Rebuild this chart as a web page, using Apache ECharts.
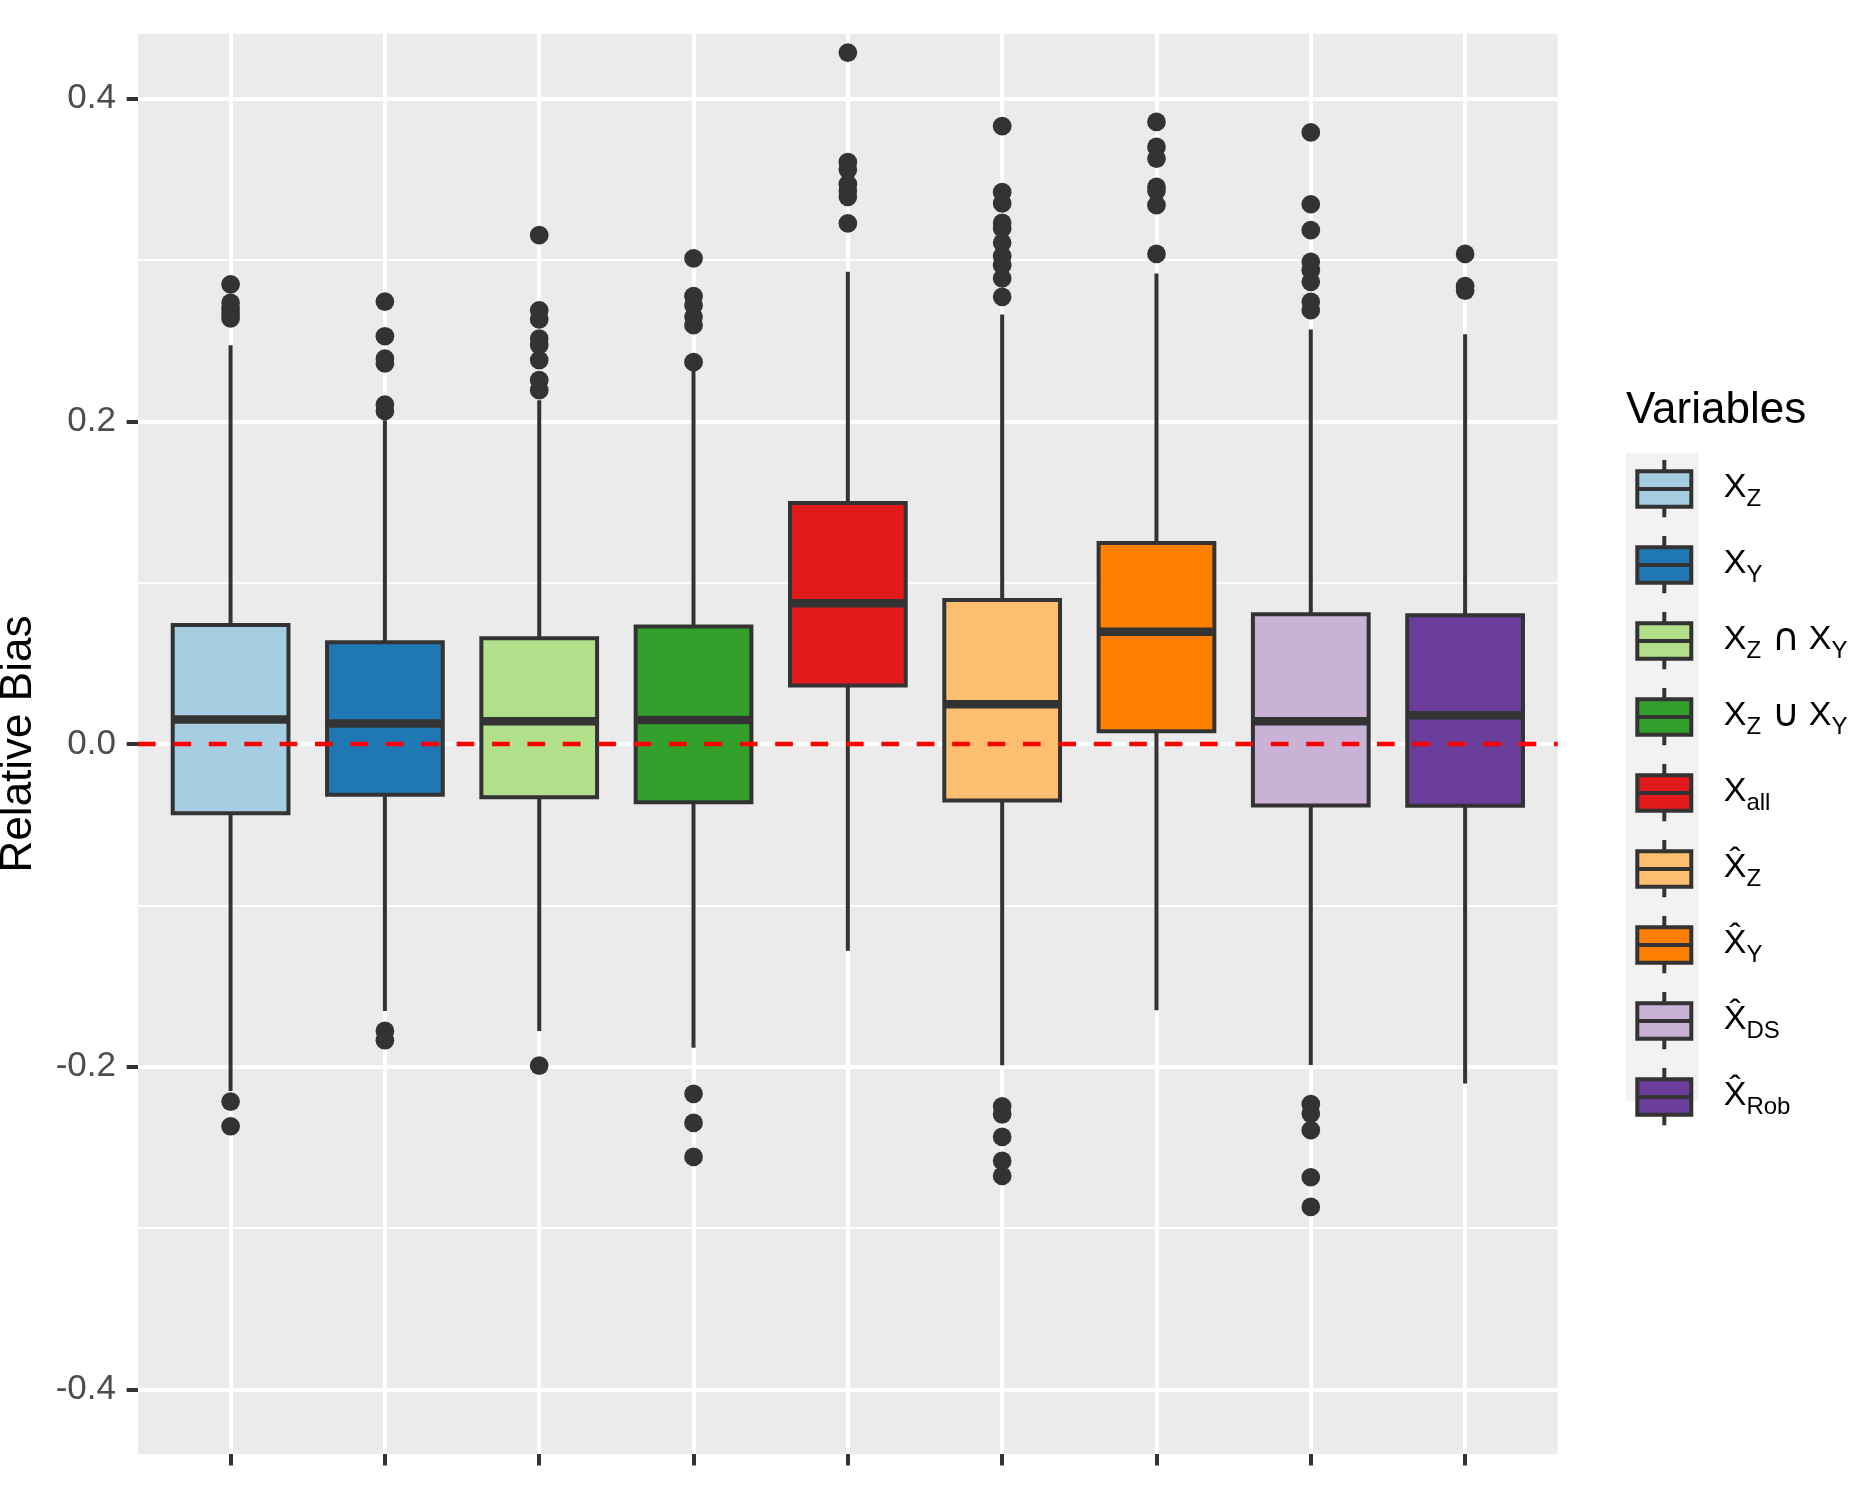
<!DOCTYPE html>
<html lang="en">
<head>
    <meta charset="UTF-8">
    <title>Relative Bias</title>
    <style>
        * { box-sizing: border-box; margin: 0; padding: 0; }
        body { background: #ffffff; }
        #chart { width: 1870px; height: 1500px; }
    </style>
    <script src="https://cdn.jsdelivr.net/npm/echarts@6.0.0/dist/echarts.min.js"></script>
</head>
<body>
    <div id="chart"></div>

    <script>
        // categories (series names) and how the legend writes them
        const categories = ['XZ', 'XY', 'XZcapXY', 'XZcupXY', 'Xall', 'hatXZ', 'hatXY', 'hatXDS', 'hatXRob'];
        const legendLabels = [
            '{g| }{x|X}{s|Z}',
            '{g| }{x|X}{s|Y}',
            '{g| }{x|X}{s|Z}{o|\u2229}{x|X}{s|Y}',
            '{g| }{x|X}{s|Z}{o|\u222A}{x|X}{s|Y}',
            '{g| }{x|X}{s|all}',
            '{g| }{x|X\u0302}{s|Z}',
            '{g| }{x|X\u0302}{s|Y}',
            '{g| }{x|X\u0302}{s|DS}',
            '{g| }{x|X\u0302}{s|Rob}'
        ];
        const boxColors = ['#A6CEE3', '#1F78B4', '#B2DF8A', '#33A02C', '#E31A1C', '#FDBF6F', '#FF7F00', '#CAB2D6', '#6A3D9A'];

        // box statistics
        const lowerWhisker = [-0.2150, -0.1654, -0.1778, -0.1883, -0.1281, -0.1991, -0.1650, -0.1990, -0.2104];
        const q1 = [-0.0429, -0.0315, -0.0330, -0.0361, 0.0362, -0.0350, 0.0079, -0.0381, -0.0383];
        const median = [0.0152, 0.0127, 0.0141, 0.0149, 0.0873, 0.0247, 0.0695, 0.0141, 0.0178];
        const q3 = [0.0738, 0.0631, 0.0656, 0.0728, 0.1494, 0.0893, 0.1246, 0.0804, 0.0798];
        const upperWhisker = [0.2471, 0.2007, 0.2131, 0.2317, 0.2926, 0.2662, 0.2916, 0.2569, 0.2540];

        // outliers per category
        const outliers = [
            [0.2849, 0.2734, 0.2699, 0.2668, 0.2637, -0.2216, -0.2369],
            [0.2742, 0.2527, 0.2389, 0.2358, 0.2104, 0.2064, -0.1778, -0.1836],
            [0.3153, 0.2688, 0.2631, 0.2513, 0.2472, 0.2379, 0.2255, 0.2193, -0.1993],
            [0.3009, 0.2775, 0.2719, 0.2647, 0.2595, 0.2366, -0.2168, -0.2348, -0.2559],
            [0.4285, 0.3606, 0.3560, 0.3469, 0.3428, 0.3391, 0.3226],
            [0.3829, 0.3420, 0.3350, 0.3230, 0.3195, 0.3106, 0.3023, 0.2967, 0.2885, 0.2771,
             -0.2245, -0.2295, -0.2435, -0.2584, -0.2677],
            [0.3855, 0.3700, 0.3628, 0.3453, 0.3428, 0.3339, 0.3037],
            [0.3790, 0.3345, 0.3184, 0.2988, 0.2936, 0.2864, 0.2740, 0.2688,
             -0.2232, -0.2290, -0.2393, -0.2685, -0.2869],
            [0.3037, 0.2837, 0.2810]
        ];

        // axis ticks
        const xTickValues = [0, 1, 2, 3, 4, 5, 6, 7, 8];
        const yRange = [-0.44, 0.44];
        const yLabelRange = [-0.4, 0.4];

        const FONT = '"Liberation Sans", Arial, sans-serif';
        const DARK = '#333333';

        // legend key glyph: whiskers, box and median
        const glyph = 'path://M27,0L27,11.3M0,11.3L54,11.3L54,46.7L0,46.7ZM0,29L54,29M27,46.7L27,57.3';

        function renderBox(params, api) {
            const x = api.value(0);
            const lo = api.coord([x, api.value(1)]);
            const b1 = api.coord([x, api.value(2)]);
            const md = api.coord([x, api.value(3)]);
            const b3 = api.coord([x, api.value(4)]);
            const hi = api.coord([x, api.value(5)]);
            const half = api.size([0.75, 0])[0] / 2;
            const cx = lo[0];
            return {
                type: 'group',
                children: [
                    { type: 'line', shape: { x1: cx, y1: hi[1], x2: cx, y2: b3[1] }, style: { stroke: DARK, lineWidth: 4 } },
                    { type: 'line', shape: { x1: cx, y1: b1[1], x2: cx, y2: lo[1] }, style: { stroke: DARK, lineWidth: 4 } },
                    { type: 'rect', shape: { x: cx - half, y: b3[1], width: half * 2, height: b1[1] - b3[1] },
                      style: { fill: api.visual('color'), stroke: DARK, lineWidth: 4 } },
                    { type: 'line', shape: { x1: cx - half, y1: md[1], x2: cx + half, y2: md[1] }, style: { stroke: DARK, lineWidth: 8.5 } }
                ]
            };
        }

        const boxSeries = categories.map((name, i) => ({
            type: 'custom',
            name: name,
            xAxisIndex: 0,
            yAxisIndex: 0,
            silent: true,
            z: 2,
            itemStyle: { color: boxColors[i] },
            encode: { x: 0, y: [1, 2, 3, 4, 5] },
            data: [[i, lowerWhisker[i], q1[i], median[i], q3[i], upperWhisker[i]]],
            renderItem: renderBox
        }));

        const outlierPoints = [];
        outliers.forEach((list, i) => list.forEach(v => outlierPoints.push([i, v])));

        const chart = echarts.init(document.getElementById('chart'));
        chart.setOption({
            animation: false,
            textStyle: { fontFamily: FONT },
            title: {
                text: 'Variables',
                left: 1626,
                top: 389,
                padding: 0,
                textStyle: { fontSize: 44, fontWeight: 'normal', color: '#000000', fontFamily: FONT, lineHeight: 44 }
            },
            graphic: [{
                type: 'rect',
                z: -1,
                shape: { x: 1626, y: 452.7, width: 72.3, height: 648 },
                style: { fill: '#F2F2F2' }
            }],
            legend: {
                orient: 'vertical',
                left: 1635.3,
                top: 458,
                padding: 0,
                itemWidth: 54,
                itemHeight: 57.3,
                itemGap: 14.7,
                icon: glyph,
                selectedMode: false,
                itemStyle: { borderColor: DARK, borderWidth: 4 },
                data: categories,
                formatter: name => legendLabels[categories.indexOf(name)],
                textStyle: {
                    color: '#000000',
                    rich: {
                        g: { width: 27.4, fontSize: 34, lineHeight: 46, fontFamily: FONT },
                        x: { fontSize: 34, lineHeight: 46, color: '#000000', fontFamily: FONT, padding: [0, 0, 2, 0] },
                        o: { fontSize: 38, lineHeight: 46, color: '#000000', fontFamily: '"DejaVu Sans", sans-serif',
                             padding: [0, 9, 2, 11] },
                        s: { fontSize: 24, lineHeight: 25, verticalAlign: 'bottom', color: '#000000', fontFamily: FONT }
                    }
                }
            },
            grid: [
                { left: 138, top: 34, width: 1419.7, height: 1420, show: true, backgroundColor: '#EBEBEB',
                  borderWidth: 0, containLabel: false, outerBoundsMode: 'none' },
                { left: 138, top: 98.545, width: 1419.7, height: 1290.9, show: false,
                  containLabel: false, outerBoundsMode: 'none' }
            ],
            xAxis: [
                {
                    type: 'value', gridIndex: 0, min: -0.6, max: 8.6, position: 'bottom',
                    axisLine: { show: false, onZero: false },
                    axisTick: { show: true, customValues: xTickValues, length: 11.5, lineStyle: { color: DARK, width: 4 } },
                    axisLabel: { show: false, customValues: xTickValues },
                    splitLine: { show: true, lineStyle: { color: '#FFFFFF', width: 4 } }
                },
                { type: 'value', gridIndex: 1, min: -0.6, max: 8.6, show: false, axisLine: { onZero: false } }
            ],
            yAxis: [
                { type: 'value', gridIndex: 0, min: yRange[0], max: yRange[1], show: false, axisLine: { onZero: false } },
                {
                    type: 'value', gridIndex: 1, min: yLabelRange[0], max: yLabelRange[1], interval: 0.2,
                    position: 'left',
                    name: 'Relative Bias',
                    nameLocation: 'middle',
                    nameRotate: 90,
                    nameGap: 97,
                    nameTextStyle: { fontSize: 44, color: '#000000', fontFamily: FONT },
                    axisLine: { show: false, onZero: false },
                    axisTick: { show: true, length: 11.3, lineStyle: { color: DARK, width: 4 } },
                    axisLabel: {
                        margin: 22, fontSize: 35, color: '#4D4D4D', fontFamily: FONT,
                        formatter: v => (Math.abs(v) < 1e-9 ? 0 : v).toFixed(1)
                    },
                    splitLine: { show: true, lineStyle: { color: '#FFFFFF', width: 4 } },
                    minorTick: { show: false, splitNumber: 2 },
                    minorSplitLine: { show: true, lineStyle: { color: '#FFFFFF', width: 2 } }
                }
            ],
            series: boxSeries.concat([{
                type: 'scatter',
                name: 'outliers',
                xAxisIndex: 0,
                yAxisIndex: 0,
                silent: true,
                z: 3,
                symbolSize: 18.7,
                itemStyle: { color: DARK, opacity: 1 },
                data: outlierPoints,
                markLine: {
                    silent: true,
                    symbol: ['none', 'none'],
                    label: { show: false },
                    lineStyle: { color: '#FF0000', width: 4.4, type: [17.7, 17.7], opacity: 1 },
                    emphasis: { disabled: true },
                    data: [{ yAxis: 0 }]
                }
            }])
        });
    </script>
</body>
</html>
